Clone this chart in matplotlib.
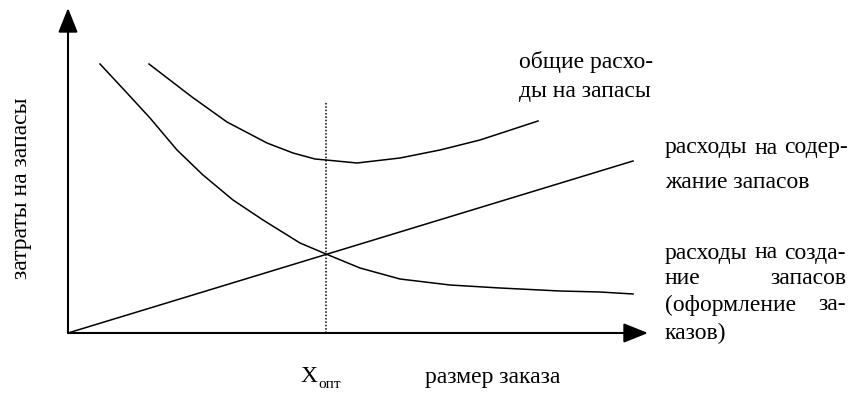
import matplotlib
matplotlib.use('Agg')
import matplotlib.pyplot as plt

plt.rcParams['font.family'] = ['Liberation Serif', 'DejaVu Serif']

# данные (условные единицы: x - размер заказа, y - затраты)
x_create = [32, 59, 82, 109, 135, 165, 195, 232, 258, 292, 332, 382, 432, 492, 532, 565]
y_create = [269, 240, 215, 183, 158, 133, 113, 90, 79, 65, 54, 48, 45, 42, 41, 39]

x_hold = [0, 565]
y_hold = [0, 172]

x_total = [81, 124, 159, 199, 225, 247, 258, 289, 332, 372, 412, 470]
y_total = [269, 236, 211, 190, 180, 174, 173, 170, 175, 183, 193, 212]

x_opt = 258
y_opt_top = 231

ylabel = 'затраты на запасы'
xlabel = 'размер заказа'
label_total = ['общие расхо-', 'ды на запасы']
label_hold = ['расходы на содер-', 'жание запасов']
label_create = ['расходы на созда-', 'ние запасов', '(оформление за-', 'казов)']

fig = plt.figure(figsize=(8.61, 3.93), dpi=100)
ax = fig.add_axes([0, 0, 1, 1])
ax.set_xlim(-68, 793)
ax.set_ylim(-60, 333)
ax.axis('off')

ax.plot(x_create, y_create, color='black', lw=1.1)
ax.plot(x_hold, y_hold, color='black', lw=1.1)
ax.plot(x_total, y_total, color='black', lw=1.1)
ax.plot([x_opt, x_opt], [0, y_opt_top], color='black', lw=1.1, ls=(0, (1, 1.2)))

# оси со стрелками
arr = dict(arrowstyle='-|>,head_length=0.75,head_width=0.3', color='black',
           lw=1.5, shrinkA=0, shrinkB=0, mutation_scale=20)
ax.annotate('', xy=(0, 325), xytext=(0, 0), arrowprops=arr)
ax.annotate('', xy=(580, 0), xytext=(0, 0), arrowprops=arr)

fs = 17
fig.canvas.draw()
rend = fig.canvas.get_renderer()


def justify(line, x0, x1, y):
    words = line.split()
    texts = [ax.text(x0, y, w, fontsize=fs, va='center', ha='left') for w in words]
    widths = [t.get_window_extent(rend).width for t in texts]
    if len(words) == 1:
        return
    gap = (x1 - x0 - sum(widths)) / (len(words) - 1)
    x = x0
    for t, w in zip(texts, widths):
        t.set_x(x)
        x += w + gap


ax.text(451, 271, label_total[0], fontsize=fs, va='center')
ax.text(451, 241, label_total[1], fontsize=fs, va='center')

justify(label_hold[0], 597, 780, 185)
ax.text(597, 151, label_hold[1], fontsize=fs, va='center')

justify(label_create[0], 597, 778, 80)
justify(label_create[1], 597, 778, 55)
justify(label_create[2], 597, 778, 28)
ax.text(597, 0, label_create[3], fontsize=fs, va='center')

ax.text(-46, 145, ylabel, fontsize=fs, rotation=90, va='center', ha='center')
ax.text(232, -44, 'X', fontsize=fs, va='center')
ax.text(250, -51, 'опт', fontsize=11, va='center')
ax.text(357, -44, xlabel, fontsize=fs, va='center')

fig.savefig('out.png', dpi=100)
